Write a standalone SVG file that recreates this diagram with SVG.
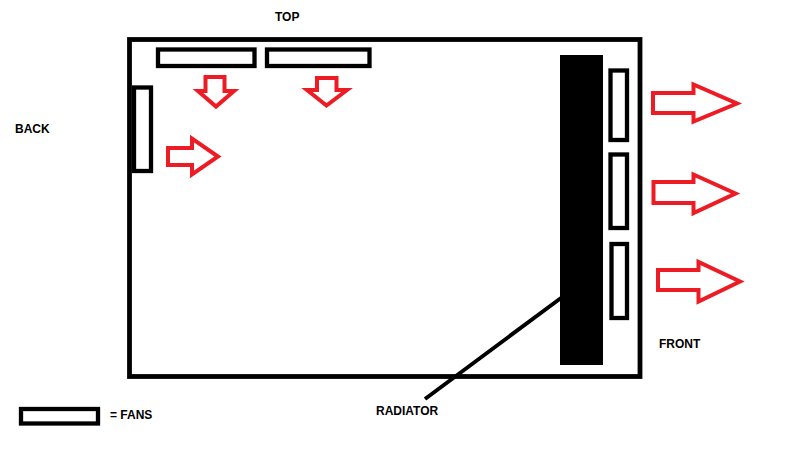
<svg xmlns="http://www.w3.org/2000/svg" width="800" height="449" viewBox="0 0 800 449">
<style>
.fan{fill:#fff;stroke:#000;stroke-width:4.3}
.arr{fill:#fff;stroke:#ED1C24;stroke-width:4;stroke-linejoin:miter}
.lbl{font-family:"Liberation Sans",Arial,sans-serif;font-weight:bold;font-size:12px;fill:#000}
</style>
<rect width="800" height="449" fill="#fff"/>
<g id="case"><rect x="129.5" y="39.5" width="510.5" height="337" fill="none" stroke="#000" stroke-width="4.8"/></g>
<g id="radiator"><rect x="560" y="55" width="43" height="310" fill="#000"/></g>
<g id="fan-top-1"><rect class="fan" x="158" y="49.5" width="96.5" height="16.5"/></g>
<g id="fan-top-2"><rect class="fan" x="267" y="49.5" width="102.5" height="16.5"/></g>
<g id="fan-back"><rect class="fan" x="134" y="87.5" width="17" height="83.5"/></g>
<g id="fan-front-1"><rect class="fan" x="610.5" y="70.5" width="16.5" height="69.5"/></g>
<g id="fan-front-2"><rect class="fan" x="610.5" y="154.5" width="16.5" height="73.5"/></g>
<g id="fan-front-3"><rect class="fan" x="611.5" y="244" width="15.5" height="74"/></g>
<g id="legend-fan"><rect class="fan" x="21" y="409" width="77" height="14.5"/></g>
<g id="arrows">
<polygon class="arr" points="205.5,77 224.5,77 224.5,91 234,91 216,106.5 198,91 205.5,91"/>
<polygon class="arr" points="317,78 336.5,78 336.5,90 347,90 326.5,105.5 307,90 317,90"/>
<polygon class="arr" points="168,148 192,148 192,138.5 218,156.5 192,174.5 192,165 168,165"/>
<polygon class="arr" points="653,93 693.5,93 693.5,84.5 737,103.5 693.5,121.5 693.5,113 653,113"/>
<polygon class="arr" points="653.5,182 693.5,182 693.5,174.5 735.5,193.5 693.5,213 693.5,203 653.5,203"/>
<polygon class="arr" points="658,270 698.5,270 698.5,262 740,281.5 698.5,301.5 698.5,290 658,290"/>
</g>
<g id="connectors"><line x1="561" y1="298" x2="425" y2="399" stroke="#000" stroke-width="4"/></g>
<g id="labels">
<text class="lbl" x="275" y="21">TOP</text>
<text class="lbl" x="15" y="133">BACK</text>
<text class="lbl" x="659" y="348">FRONT</text>
<text class="lbl" x="376" y="415">RADIATOR</text>
<text class="lbl" x="110" y="419">= FANS</text>
</g>
</svg>
